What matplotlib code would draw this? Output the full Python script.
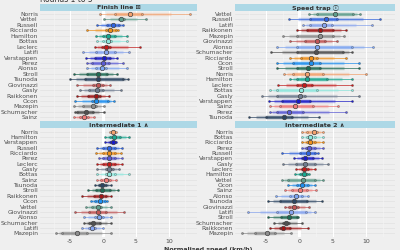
import matplotlib
matplotlib.use("Agg")
import matplotlib.pyplot as plt
import numpy as np

plt.rcParams['font.family'] = ['DejaVu Sans', 'Noto Sans CJK JP']

title_text = "Rounds 1 to 5"
x_label = "Normalised speed (km/h)"
x_ticks = [-5, 0, 5, 10]

panel_titles = ["Finish line \u229e", "Speed trap \u24d8", "Intermediate 1 \u2227", "Intermediate 2 \u2227"]

driver_colors = {
    "Norris": "#f5a26e", "Ricciardo": "#f0901a",
    "Vettel": "#5f9e8c", "Stroll": "#1f6b55",
    "Russell": "#2f63e0", "Latifi": "#86a4f0",
    "Hamilton": "#17a890", "Bottas": "#8ee8de",
    "Leclerc": "#c41a1a", "Sainz": "#f07a78",
    "Verstappen": "#1a1ac8", "Perez": "#5a5ad6",
    "Alonso": "#7ea6f2", "Ocon": "#1e8ff0",
    "Tsunoda": "#2b4562", "Gasly": "#6e7c90",
    "Raikkonen": "#a01515", "Giovinazzi": "#c25656",
    "Mazepin": "#8e8e8e", "Schumacher": "#505050",
}

finish_drivers = ["Norris", "Vettel", "Russell", "Ricciardo", "Hamilton", "Bottas", "Leclerc",
                  "Latifi", "Verstappen", "Perez", "Alonso", "Stroll", "Tsunoda", "Giovinazzi",
                  "Gasly", "Raikkonen", "Ocon", "Mazepin", "Schumacher", "Sainz"]
finish_values = [
    [-0.4, 1.8, 4.1, 6.0, 13.2],
    [0.1, 2.5, 2.75, 3.2, 6.6],
    [-0.9, 0.6, 1.5, 2.4, 3.1],
    [-2.4, 0.4, 1.0, 2.0, 2.2],
    [-1.1, 0.0, 0.75, 1.8, 3.6],
    [-0.9, 0.0, 0.75, 1.2, 3.6],
    [-1.3, -0.2, 0.5, 1.0, 5.6],
    [-3.0, -1.0, 0.5, 1.75, 3.9],
    [-2.6, -1.25, 0.1, 1.0, 2.1],
    [-2.5, -1.75, 0.0, 0.9, 3.1],
    [-2.4, -1.0, -0.1, 0.5, 3.65],
    [-4.5, -2.4, -0.75, 0.6, 2.1],
    [-5.0, -2.75, -0.75, 3.0, 3.75],
    [-4.0, -1.5, -0.75, 0.0, 1.0],
    [-3.5, -2.1, -0.9, 0.0, 2.75],
    [-4.0, -2.25, -1.1, -0.5, 0.9],
    [-4.25, -1.75, -1.1, 0.75, 1.6],
    [-4.4, -3.1, -1.5, -1.0, 0.1],
    [-4.25, -3.9, -2.6, -1.6, 0.1],
    [-4.5, -3.5, -2.9, -2.25, -1.4],
]

speed_drivers = ["Vettel", "Russell", "Latifi", "Raikkonen", "Mazepin", "Giovinazzi", "Alonso",
                 "Schumacher", "Ricciardo", "Ocon", "Stroll", "Norris", "Hamilton", "Leclerc",
                 "Bottas", "Gasly", "Verstappen", "Sainz", "Perez", "Tsunoda"]
speed_values = [
    [1.5, 2.7, 5.35, 8.0, 9.0],
    [-1.5, 1.6, 4.0, 5.7, 12.0],
    [0.6, 1.6, 3.7, 4.9, 10.85],
    [-0.4, 1.1, 3.1, 5.1, 7.0],
    [-2.4, -0.4, 3.1, 5.0, 6.7],
    [-1.4, 0.85, 2.7, 3.85, 5.6],
    [-3.3, -0.4, 2.7, 7.85, 10.95],
    [-4.15, -0.4, 2.5, 6.5, 7.95],
    [-1.4, 0.2, 1.7, 2.7, 6.95],
    [-3.4, -1.0, 1.7, 3.1, 8.95],
    [-3.4, -0.4, 1.35, 3.1, 8.95],
    [-2.3, -1.0, 1.1, 3.6, 9.95],
    [-1.4, -0.4, 1.1, 4.1, 7.95],
    [-3.15, -0.4, 0.7, 1.85, 7.95],
    [-4.4, -3.3, 0.25, 2.6, 7.95],
    [-5.55, -3.3, 0.1, 0.85, 8.95],
    [-4.55, -2.65, -0.15, 1.6, 7.95],
    [-4.3, -2.9, -0.65, 2.1, 5.85],
    [-4.4, -3.4, -1.5, 0.6, 6.95],
    [-7.55, -4.9, -2.3, -1.15, 2.95],
]

int1_drivers = ["Norris", "Hamilton", "Verstappen", "Russell", "Ricciardo", "Perez", "Leclerc",
                "Gasly", "Bottas", "Sainz", "Tsunoda", "Stroll", "Raikkonen", "Ocon", "Vettel",
                "Giovinazzi", "Alonso", "Schumacher", "Latifi", "Mazepin"]
int1_values = [
    [1.1, 1.3, 1.5, 1.7, 1.9],
    [0.25, 1.0, 1.6, 2.6, 4.0],
    [0.25, 1.0, 1.5, 1.75, 2.0],
    [-0.9, 0.0, 0.9, 1.75, 2.9],
    [-1.1, 0.0, 0.9, 1.75, 2.75],
    [-0.6, 0.0, 0.9, 1.75, 2.9],
    [-0.9, 0.0, 0.9, 1.75, 2.9],
    [-0.9, 0.4, 0.9, 1.5, 2.5],
    [-0.9, 0.4, 0.9, 1.75, 4.0],
    [-0.9, -0.25, 0.4, 1.0, 1.9],
    [-1.25, -0.6, -0.1, 0.5, 1.25],
    [-2.25, -1.0, -0.1, 1.0, 2.25],
    [-3.25, -1.4, -0.25, 0.5, 1.25],
    [-1.9, -1.25, -0.5, 0.25, 0.6],
    [-2.6, -1.75, -0.75, -0.25, 1.25],
    [-4.25, -2.1, -0.75, 0.5, 3.15],
    [-2.9, -1.25, -0.65, 0.0, 1.25],
    [-2.9, -2.1, -1.6, -0.5, 1.25],
    [-3.25, -2.1, -1.75, -1.25, 0.0],
    [-7.1, -6.25, -3.9, -2.4, 1.25],
]

int2_drivers = ["Norris", "Bottas", "Ricciardo", "Perez", "Russell", "Verstappen", "Gasly",
                "Leclerc", "Hamilton", "Vettel", "Ocon", "Sainz", "Alonso", "Tsunoda",
                "Giovinazzi", "Latifi", "Stroll", "Schumacher", "Raikkonen", "Mazepin"]
int2_values = [
    [0.35, 1.2, 2.2, 2.7, 3.5],
    [0.35, 1.1, 1.6, 2.35, 3.5],
    [0.35, 1.2, 1.6, 2.35, 3.5],
    [0.35, 1.0, 1.5, 2.35, 3.5],
    [-2.65, 0.1, 1.35, 2.35, 2.85],
    [-0.8, 0.35, 0.85, 2.1, 3.45],
    [-2.5, -0.5, 0.85, 2.35, 4.35],
    [-0.5, 0.35, 0.7, 1.35, 2.35],
    [-0.65, 0.1, 0.7, 1.1, 1.5],
    [-2.65, -1.65, 0.6, 2.35, 3.5],
    [-1.65, -0.4, 0.45, 1.35, 2.35],
    [-2.15, -1.15, 0.1, 1.1, 2.45],
    [-3.5, -1.4, -0.5, 0.35, 1.35],
    [-4.65, -2.9, -0.75, 1.1, 3.45],
    [-2.15, -1.5, -0.75, -0.15, 1.5],
    [-7.65, -3.3, -1.3, 1.0, 2.35],
    [-4.65, -2.8, -1.5, -0.4, -0.15],
    [-3.8, -2.4, -2.0, -1.5, 0.35],
    [-4.3, -2.9, -2.4, -1.4, 1.35],
    [-8.5, -6.65, -4.75, -3.65, -1.3],
]

panels = [
    (finish_drivers, finish_values),
    (speed_drivers, speed_values),
    (int1_drivers, int1_values),
    (int2_drivers, int2_values),
]

BG = "#efefef"
fig = plt.figure(figsize=(4, 2.5), dpi=100, facecolor=BG)

W, H = 400.0, 250.0
rects = [(40, 197, 10.8, 120.5), (235, 395, 10.8, 120.5),
         (40, 197, 128.3, 236.5), (235, 395, 128.3, 236.5)]
strip_h = 7.0

for i, ((drivers, values), (l, r, t, b)) in enumerate(zip(panels, rects)):
    ax = fig.add_axes([l / W, 1 - b / H, (r - l) / W, (b - t) / H])
    ax.set_facecolor(BG)
    for s in ax.spines.values():
        s.set_visible(False)
    n = len(drivers)
    ys = np.arange(n)
    ax.set_ylim(n - 0.4, -0.6)
    ax.set_xlim(-9.6, 14.3)
    for y in ys:
        ax.axhline(y, color="#e2e2e2", lw=0.5, zorder=0)
    for xv in [-7.5, -2.5, 2.5, 7.5, 12.5]:
        ax.axvline(xv, color="#f6f6f6", lw=0.4, zorder=0)
    for xv in [-5, 5, 10]:
        ax.axvline(xv, color="white", lw=0.8, zorder=0)
    ax.axvline(0, color="white", lw=2.2, zorder=0.5)
    for y, d, v in zip(ys, drivers, values):
        c = driver_colors[d]
        v = sorted(v)
        q10, q90 = np.percentile(v, [10, 90])
        ax.hlines(y, v[0], v[4], color=c, lw=0.6, alpha=0.8, zorder=2)
        ax.hlines(y, q10, q90, color=c, lw=2.4, alpha=0.3, zorder=2)
        ax.hlines(y, v[1], v[3], color=c, lw=2.4, alpha=0.6, zorder=2)
        ax.plot(v, [y] * len(v), 'o', ms=1.5, color=c, mec="#333333", mew=0.2, zorder=3)
        ax.plot([v[2]], [y], 'o', ms=3.2, mfc=c, mec="#444444", mew=0.5, zorder=4)
    ax.set_yticks(ys)
    ax.set_yticklabels(drivers, fontsize=4.3, color="#4d4d4d")
    ax.tick_params(axis='both', length=0, pad=1.5)
    ax.set_xticks(x_ticks)
    if i >= 2:
        ax.set_xticklabels([str(x) for x in x_ticks], fontsize=4.5, color="#4d4d4d")
    else:
        ax.set_xticklabels([])
    sax = fig.add_axes([l / W, 1 - t / H, (r - l) / W, strip_h / H])
    sax.set_facecolor("#add8e6")
    sax.set_xticks([]); sax.set_yticks([])
    for s in sax.spines.values():
        s.set_visible(False)
    sax.text(0.5, 0.45, panel_titles[i], ha='center', va='center', fontsize=4.5,
             fontweight='bold', color="#333333", transform=sax.transAxes)

fig.text(40 / W, 1 - 2.5 / H, title_text, fontsize=5.5, color="#333333", ha='left', va='baseline')
fig.text(208 / W, 1 - 249.5 / H, x_label, fontsize=4.5, fontweight='bold', color="#333333",
         ha='center', va='center')

fig.savefig("out.png", dpi=100, facecolor=BG)
